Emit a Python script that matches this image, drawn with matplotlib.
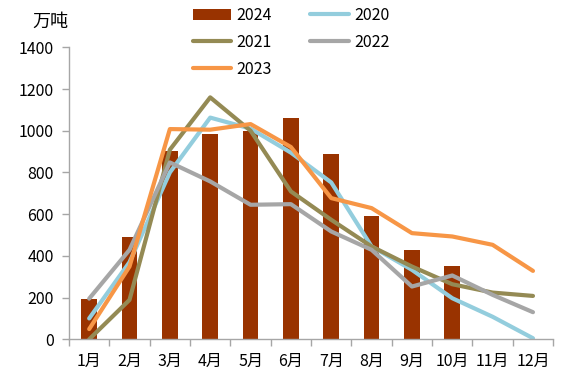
import numpy as np
import matplotlib.pyplot as plt

plt.rcParams['font.family'] = ['Noto Sans CJK SC', 'DejaVu Sans']

# data (万吨)
months = ['1月', '2月', '3月', '4月', '5月', '6月', '7月', '8月', '9月', '10月', '11月', '12月']
y2024 = [192, 489, 901, 985, 997, 1062, 890, 590, 427, 350]
y2020 = [100, 370, 800, 1063, 1010, 895, 752, 445, 333, 197, 108, 5]
y2021 = [0, 189, 909, 1160, 1000, 709, 573, 445, 349, 264, 224, 208]
y2022 = [195, 429, 848, 757, 645, 648, 517, 429, 253, 306, 213, 130]
y2023 = [49, 349, 1008, 1005, 1032, 922, 677, 629, 509, 493, 453, 328]

fig = plt.figure(figsize=(5.61, 3.77), dpi=100)
ax = fig.add_axes([0.123, 0.1, 0.863, 0.7745])

x = np.arange(len(months))
lw = 3.0
bars = ax.bar(x[:len(y2024)], y2024, width=0.39, color='#993300', zorder=1)
l20, = ax.plot(x, y2020, color='#93CDDD', lw=lw, solid_capstyle='round', zorder=2)
l21, = ax.plot(x, y2021, color='#948A54', lw=lw, solid_capstyle='round', zorder=2)
l22, = ax.plot(x, y2022, color='#A6A6A6', lw=lw, solid_capstyle='round', zorder=2)
l23, = ax.plot(x, y2023, color='#F79646', lw=lw, solid_capstyle='round', zorder=3)

ax.set_xlim(-0.5, 11.5)
ax.set_ylim(0, 1400)
ax.set_yticks(range(0, 1401, 200))
ax.set_xticks(x)
ax.set_xticklabels(months)
ax.set_xticks(np.arange(-0.5, 12, 1), minor=True)
ax.tick_params(axis='x', which='major', length=0, pad=10, labelsize=11.5)
ax.tick_params(axis='x', which='minor', length=5, color='#A6A6A6', width=1)
ax.tick_params(axis='y', length=5, color='#A6A6A6', width=1, labelsize=11.5, pad=6)
for s in ['top', 'right']:
    ax.spines[s].set_visible(False)
for s in ['left', 'bottom']:
    ax.spines[s].set_color('#A6A6A6')
    ax.spines[s].set_linewidth(1)

fig.text(0.057, 0.942, '万吨', fontsize=13, va='center')

leg = fig.legend([bars, l21, l23, l20, l22], ['2024', '2021', '2023', '2020', '2022'],
                 ncol=2, frameon=False, fontsize=11.5, loc='upper left',
                 bbox_to_anchor=(0.318, 1.02), handlelength=2.4, handletextpad=0.35,
                 columnspacing=2.4, labelspacing=0.62)

fig.savefig('out.png', dpi=100)
